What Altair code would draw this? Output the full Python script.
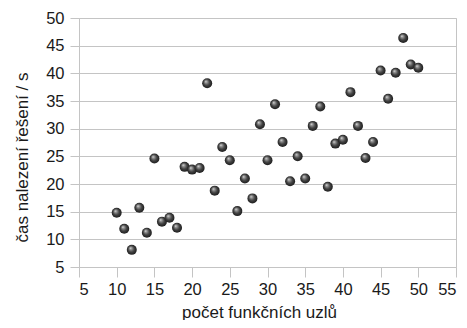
import altair as alt
import pandas as pd

nodes = list(range(10, 51))
times = [14.8, 11.9, 8.1, 15.7, 11.2, 24.6, 13.2, 13.9, 12.1, 23.1,
         22.6, 22.9, 38.2, 18.8, 26.7, 24.3, 15.1, 21.0, 17.4, 30.8,
         24.3, 34.4, 27.6, 20.5, 25.0, 21.0, 30.5, 34.0, 19.5, 27.3,
         28.0, 36.6, 30.5, 24.7, 27.6, 40.5, 35.4, 40.1, 46.4, 41.6,
         41.0]
x_ticks = list(range(5, 56, 5))
y_ticks = list(range(5, 51, 5))

df = pd.DataFrame({"x": nodes, "y": times})

grad = alt.Gradient(
    gradient="radial",
    x1=0.36, y1=0.3, r1=0.0,
    x2=0.5, y2=0.5, r2=0.55,
    stops=[
        alt.GradientStop(offset=0.0, color="#ffffff"),
        alt.GradientStop(offset=0.15, color="#a8a8a8"),
        alt.GradientStop(offset=0.55, color="#444444"),
        alt.GradientStop(offset=1.0, color="#161616"),
    ],
)

FONT = "Liberation Sans"
GRID = "#c4c4c4"

chart = alt.Chart(df).mark_circle(fill=grad, size=100, opacity=1).encode(
    x=alt.X("x:Q", scale=alt.Scale(domain=[5, 55], nice=False, zero=False),
            axis=alt.Axis(values=x_ticks, title="počet funkčních uzlů", grid=False,
                          tickSize=10, labelPadding=4, domainColor=GRID, tickColor=GRID,
                          titleX=180, titleY=50, titleBaseline="alphabetic")),
    y=alt.Y("y:Q", scale=alt.Scale(domain=[5, 50], nice=False, zero=False),
            axis=alt.Axis(values=y_ticks, title="čas nalezení řešení / s", grid=True,
                          gridColor=GRID, tickSize=9, labelPadding=6,
                          domainColor=GRID, tickColor=GRID,
                          titleX=-52, titleY=139, titleBaseline="alphabetic",
                          titleAngle=-90)),
).properties(
    width=377, height=249,
    autosize=alt.AutoSizeParams(type="none"),
    padding={"left": 71, "top": 10, "right": 3, "bottom": 53},
).configure_view(
    stroke=GRID, strokeWidth=1
).configure_axis(
    labelFont=FONT, titleFont=FONT, labelFontSize=16.5, titleFontSize=17,
    labelColor="#1a1a1a", titleColor="#1a1a1a", titleFontWeight="normal",
    domainWidth=1, tickWidth=1, gridWidth=1,
)

chart.save("out.html", embed_options={"renderer": "svg", "actions": False})
